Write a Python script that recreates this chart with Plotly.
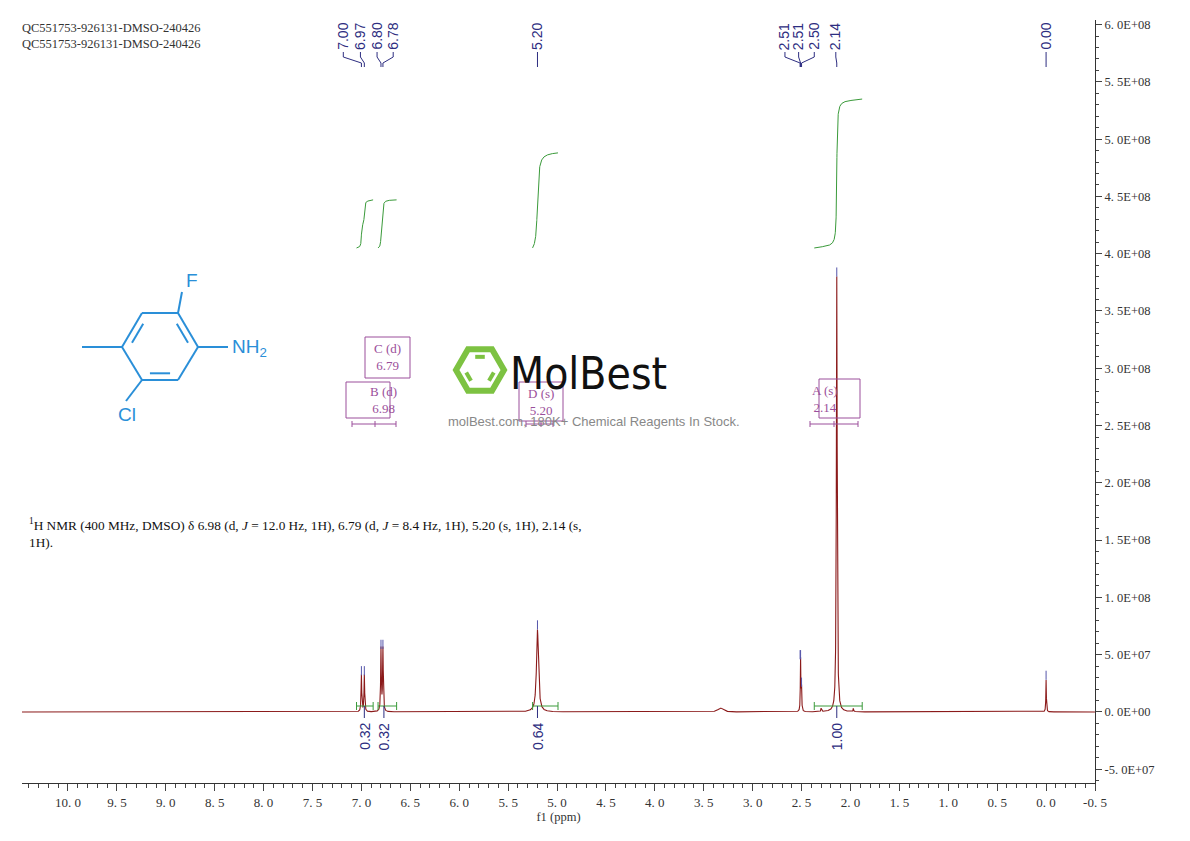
import numpy as np
import plotly.graph_objects as go

# ---- data ----
peak_ppm = [7.00, 6.97, 6.80, 6.78, 5.20, 3.33, 2.51, 2.50, 2.30, 2.14, 1.97, 0.00]
peak_height = [3.2e7, 3.2e7, 5.5e7, 5.5e7, 7.2e7, 0.35e7, 4.6e7, 2.0e7, 0.3e7, 3.8e8, 0.3e7, 2.8e7]
peak_hwhm = [0.004, 0.004, 0.004, 0.004, 0.012, 0.03, 0.003, 0.003, 0.003, 0.005, 0.003, 0.003]
pick_labels = ["7.00", "6.97", "6.80", "6.78", "5.20", "2.51", "2.51", "2.50", "2.14", "0.00"]
pick_label_ppm = [7.185, 7.01, 6.84, 6.675, 5.20, 2.67, 2.53, 2.37, 2.15, 0.00]
pick_ppm = [7.00, 6.97, 6.80, 6.78, 5.20, 2.515, 2.51, 2.50, 2.14, 0.00]
pick_top = [3.2e7, 3.2e7, 5.5e7, 5.5e7, 7.2e7, 4.6e7, 4.6e7, 2.2e7, 3.8e8, 2.8e7]
int_start = [7.05, 6.83, 5.25, 2.37]
int_end = [6.88, 6.64, 4.99, 1.88]
int_delta = [0.42e8, 0.42e8, 0.83e8, 1.30e8]
int_values = ["0.32", "0.32", "0.64", "1.00"]
int_label_ppm = [6.97, 6.77, 5.20, 2.14]
mult_boxes = [("B (d)", "6.98"), ("C (d)", "6.79"), ("D (s)", "5.20"), ("A (s)", "2.14")]
y_tick_vals = [-5e7 + 5e7 * i for i in range(14)]
x_tick_vals = [10.5 - 0.5 * i for i in range(23)]

OFF = 8
X0, X1 = 10.47, -0.5
Y0, Y1 = -6.2e7, 6.04e8
PL, PR, PT, PB = 22, 1095, 20, 783
L, T = PL - OFF, PT - OFF
R = 1190 - (PR - OFF)
B = 841 - (PB - OFF)
PW, PH = PR - PL, PB - PT

def py2y(py):
    return Y1 - (py - PT) / PH * (Y1 - Y0)

def ppx(px):
    return (px - PL) / PW

def ppy(py):
    return (PB - py) / PH

x = np.arange(X0, X1, -0.0005)
y = np.zeros_like(x)
for p, h, w in zip(peak_ppm, peak_height, peak_hwhm):
    y += h / (1 + ((x - p) / w) ** 2)

fig = go.Figure()
fig.add_trace(go.Scatter(x=x, y=y, mode="lines", line=dict(color="#8b1a1a", width=1.1),
                         hoverinfo="skip", showlegend=False))

green = "#3a9a3a"
navy = "#2d2d80"
purple = "#9b4f9b"
for s, e, d in zip(int_start, int_end, int_delta):
    m = (x <= s) & (x >= e)
    c = np.cumsum(y[m])
    fig.add_trace(go.Scatter(x=x[m], y=4.05e8 + d * c / c[-1], mode="lines",
                             line=dict(color=green, width=1), hoverinfo="skip", showlegend=False))

shapes = []
ann = []
for s, e, lp, v in zip(int_start, int_end, int_label_ppm, int_values):
    yb = py2y(706)
    shapes.append(dict(type="line", x0=s, x1=e, y0=yb, y1=yb, line=dict(color=green, width=1)))
    for xx in (s, e):
        shapes.append(dict(type="line", x0=xx, x1=xx, y0=py2y(702), y1=py2y(710), line=dict(color=green, width=1)))
    shapes.append(dict(type="line", x0=lp, x1=lp, y0=yb, y1=py2y(718), line=dict(color=navy, width=1)))
    ann.append(dict(x=lp, y=py2y(721), text=v, showarrow=False, textangle=-90, yanchor="top",
                    font=dict(family="Liberation Sans", size=14, color=navy)))
for lab, lx, px_, top in zip(pick_labels, pick_label_ppm, pick_ppm, pick_top):
    ann.append(dict(x=lx, y=ppy(52), yref="paper", text=lab, showarrow=False, textangle=-90,
                    yanchor="bottom", font=dict(family="Liberation Sans", size=14, color=navy)))
    shapes.append(dict(type="line", x0=lx, x1=lx, yref="paper", y0=ppy(52), y1=ppy(57), line=dict(color=navy, width=1)))
    shapes.append(dict(type="line", x0=lx, x1=px_, yref="paper", y0=ppy(57), y1=ppy(63), line=dict(color=navy, width=1)))
    shapes.append(dict(type="line", x0=px_, x1=px_, yref="paper", y0=ppy(63), y1=ppy(67), line=dict(color=navy, width=1)))
    shapes.append(dict(type="line", x0=px_, x1=px_, y0=top, y1=top + 0.8e7, line=dict(color="#5555aa", width=1)))
box_px = [(346, 390, 382, 418), (365, 410, 337, 378), (519, 563, 382, 421), (819, 860, 379, 418)]
for (t1, t2), (a, b, c, d) in zip(mult_boxes, box_px):
    shapes.append(dict(type="rect", xref="paper", yref="paper", x0=ppx(a), x1=ppx(b), y0=ppy(d), y1=ppy(c),
                       line=dict(color=purple, width=1)))
    ann.append(dict(xref="paper", yref="paper", x=ppx((a + b) / 2), y=ppy((c + d) / 2), text=t1 + "<br>" + t2,
                    showarrow=False, font=dict(family="Liberation Serif", size=13, color=purple)))
for a, b, ticks in [(352, 396, [375]), (526, 553, [541]), (810, 858, [834])]:
    shapes.append(dict(type="line", xref="paper", yref="paper", x0=ppx(a), x1=ppx(b), y0=ppy(424), y1=ppy(424), line=dict(color=purple, width=1)))
    for t in [a, b] + ticks:
        shapes.append(dict(type="line", xref="paper", yref="paper", x0=ppx(t), x1=ppx(t), y0=ppy(421), y1=ppy(427), line=dict(color=purple, width=1)))

blue = "#2a8fd8"
V = [(122, 347), (142, 313), (178, 313), (198, 347), (178, 380), (142, 380)]
bonds = [(V[i], V[(i + 1) % 6]) for i in range(6)]
bonds += [((82, 347), V[0]), (V[3], (228, 347)), (V[2], (182, 292)), (V[5], (126, 401))]
cx, cy = 160, 346.5
for i in (0, 2, 4):
    (ax, ay), (bx, by) = V[i], V[(i + 1) % 6]
    f = 0.8
    ax2, ay2 = cx + (ax - cx) * f, cy + (ay - cy) * f
    bx2, by2 = cx + (bx - cx) * f, cy + (by - cy) * f
    tr = 0.15
    bonds.append(((ax2 + (bx2 - ax2) * tr, ay2 + (by2 - ay2) * tr), (bx2 - (bx2 - ax2) * tr, by2 - (by2 - ay2) * tr)))
for (a, b) in bonds:
    shapes.append(dict(type="line", xref="paper", yref="paper", x0=ppx(a[0]), y0=ppy(a[1]), x1=ppx(b[0]), y1=ppy(b[1]),
                       line=dict(color=blue, width=2)))
mol_font = dict(family="Liberation Sans", size=19, color=blue)
ann.append(dict(xref="paper", yref="paper", x=ppx(184), y=ppy(280), text="F", showarrow=False, font=mol_font))
ann.append(dict(xref="paper", yref="paper", x=ppx(230), y=ppy(348), text="NH<sub>2</sub>", showarrow=False, xanchor="left", font=mol_font))
ann.append(dict(xref="paper", yref="paper", x=ppx(116), y=ppy(414), text="Cl", showarrow=False, font=mol_font))

hx, hy, hr = 480, 370, 24
hexp = [(hx + hr * np.cos(np.radians(a)), hy + hr * np.sin(np.radians(a))) for a in range(0, 360, 60)]
path = "M " + " L ".join(f"{ppx(a)},{ppy(b)}" for a, b in hexp) + " Z"
shapes.append(dict(type="path", xref="paper", yref="paper", path=path, line=dict(color="#7dc242", width=6)))
for a1, a2 in [(250, 290), (130, 170), (10, 50)]:
    r2 = 14
    p1 = (hx + r2 * np.cos(np.radians(a1)), hy + r2 * np.sin(np.radians(a1)))
    p2 = (hx + r2 * np.cos(np.radians(a2)), hy + r2 * np.sin(np.radians(a2)))
    shapes.append(dict(type="line", xref="paper", yref="paper", x0=ppx(p1[0]), y0=ppy(p1[1]), x1=ppx(p2[0]), y1=ppy(p2[1]),
                       line=dict(color="#7dc242", width=4)))
ann.append(dict(xref="paper", yref="paper", x=ppx(508), y=ppy(373), text="MolBest", showarrow=False, xanchor="left",
                font=dict(family="DejaVu Sans Condensed", size=44, color="#111111")))
ann.append(dict(xref="paper", yref="paper", x=ppx(594), y=ppy(421), text="molBest.com, 180K+ Chemical Reagents In Stock.",
                showarrow=False, font=dict(family="Liberation Sans", size=13, color="#888888")))

ann.append(dict(xref="paper", yref="paper", x=ppx(20), y=ppy(19), text="QC551753-926131-DMSO-240426<br>QC551753-926131-DMSO-240426",
                showarrow=False, xanchor="left", yanchor="top", align="left",
                font=dict(family="Liberation Serif", size=12.5, color="#333333")))
ann.append(dict(xref="paper", yref="paper", x=ppx(27), y=ppy(514),
                text="<sup>1</sup>H NMR (400 MHz, DMSO) δ 6.98 (d, <i>J</i> = 12.0 Hz, 1H), 6.79 (d, <i>J</i> = 8.4 Hz, 1H), 5.20 (s, 1H), 2.14 (s,<br>1H).",
                showarrow=False, xanchor="left", yanchor="top", align="left",
                font=dict(family="Liberation Serif", size=13.3, color="#111111")))

def ylab(v):
    if v == 0:
        return "0. 0E+00"
    e = int(np.floor(np.log10(abs(v))))
    m = v / 10 ** e
    s = "-" if m < 0 else ""
    return f"{s}{abs(m):.1f}".replace(".", ". ") + f"E{'+' if e >= 0 else '-'}{abs(e):02d}"

fig.update_layout(
    width=1190, height=841, margin=dict(l=L, r=R, t=T, b=B, autoexpand=False),
    paper_bgcolor="white", plot_bgcolor="white", shapes=shapes, annotations=ann,
    xaxis=dict(range=[X0, X1], tickvals=x_tick_vals, ticktext=[f"{v:.1f}".replace(".", ". ") for v in x_tick_vals],
               ticks="outside", ticklen=7, showgrid=False, zeroline=False, showline=True, linecolor="#333",
               automargin=False, tickfont=dict(family="Liberation Serif", size=13, color="#333"),
               minor=dict(ticks="outside", ticklen=4, dtick=0.1, tick0=0),
               title=dict(text="f1 (ppm)", font=dict(family="Liberation Serif", size=12.5, color="#333"), standoff=0)),
    yaxis=dict(range=[Y0, Y1], side="right", tickvals=y_tick_vals, ticktext=[ylab(v) for v in y_tick_vals],
               ticks="outside", ticklen=6, showgrid=False, zeroline=False, showline=True, linecolor="#333",
               automargin=False, tickfont=dict(family="Liberation Serif", size=12.5, color="#333"),
               minor=dict(ticks="outside", ticklen=3, dtick=1e7, tick0=0)),
)
fig.write_html("out.html")
